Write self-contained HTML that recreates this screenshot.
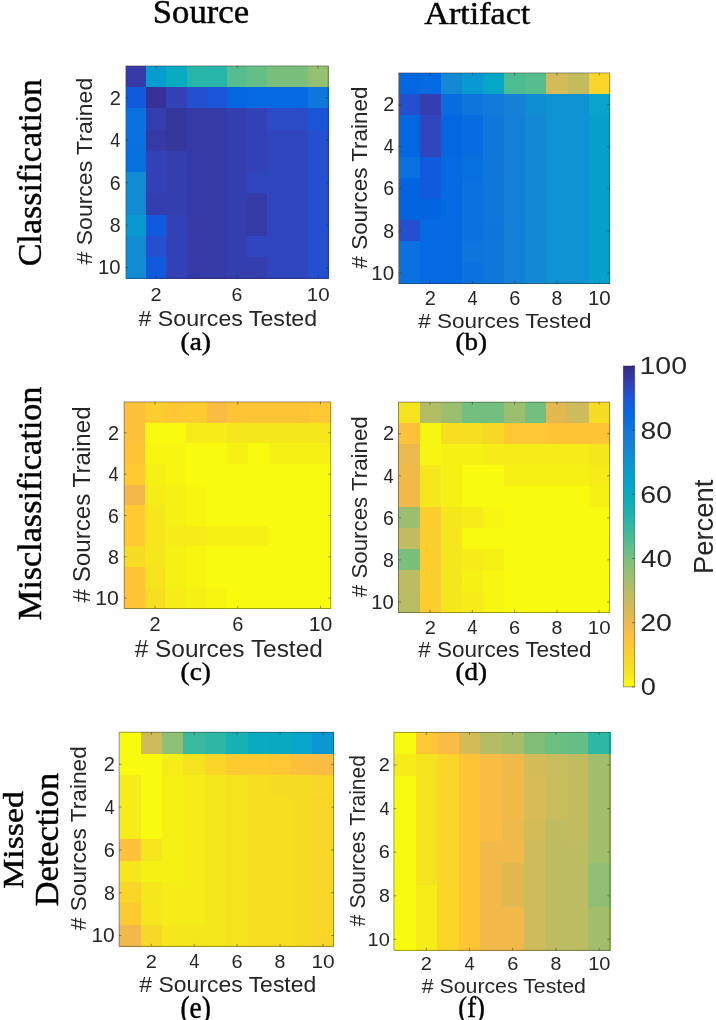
<!DOCTYPE html><html><head><meta charset="utf-8"><style>html,body{margin:0;padding:0;background:#fff;width:716px;height:1020px;overflow:hidden}svg{display:block;filter:blur(0.35px)}</style></head><body>
<svg width="716" height="1020" viewBox="0 0 716 1020">
<g shape-rendering="crispEdges">
<rect x="125.80" y="65.90" width="20.84" height="21.83" fill="#363aa7"/>
<rect x="146.04" y="65.90" width="20.84" height="21.83" fill="#079cd0"/>
<rect x="166.28" y="65.90" width="20.84" height="21.83" fill="#09acbe"/>
<rect x="186.52" y="65.90" width="20.84" height="21.83" fill="#27b5a8"/>
<rect x="206.76" y="65.90" width="20.84" height="21.83" fill="#27b5a8"/>
<rect x="227.00" y="65.90" width="20.84" height="21.83" fill="#55bd8e"/>
<rect x="247.24" y="65.90" width="20.84" height="21.83" fill="#64be86"/>
<rect x="267.48" y="65.90" width="20.84" height="21.83" fill="#7abf7c"/>
<rect x="287.72" y="65.90" width="20.84" height="21.83" fill="#7abf7c"/>
<rect x="307.96" y="65.90" width="20.84" height="21.83" fill="#95bf71"/>
<rect x="125.80" y="87.13" width="20.84" height="21.83" fill="#105bdd"/>
<rect x="146.04" y="87.13" width="20.84" height="21.83" fill="#363297"/>
<rect x="166.28" y="87.13" width="20.84" height="21.83" fill="#3342b7"/>
<rect x="186.52" y="87.13" width="20.84" height="21.83" fill="#2450cf"/>
<rect x="206.76" y="87.13" width="20.84" height="21.83" fill="#1b55d7"/>
<rect x="227.00" y="87.13" width="20.84" height="21.83" fill="#0267e1"/>
<rect x="247.24" y="87.13" width="20.84" height="21.83" fill="#036ae1"/>
<rect x="267.48" y="87.13" width="20.84" height="21.83" fill="#036ae1"/>
<rect x="287.72" y="87.13" width="20.84" height="21.83" fill="#036ae1"/>
<rect x="307.96" y="87.13" width="20.84" height="21.83" fill="#0f77db"/>
<rect x="125.80" y="108.36" width="20.84" height="21.83" fill="#0a72de"/>
<rect x="146.04" y="108.36" width="20.84" height="21.83" fill="#353eaf"/>
<rect x="166.28" y="108.36" width="20.84" height="21.83" fill="#36369f"/>
<rect x="186.52" y="108.36" width="20.84" height="21.83" fill="#363aa7"/>
<rect x="206.76" y="108.36" width="20.84" height="21.83" fill="#363aa7"/>
<rect x="227.00" y="108.36" width="20.84" height="21.83" fill="#353eaf"/>
<rect x="247.24" y="108.36" width="20.84" height="21.83" fill="#3342b7"/>
<rect x="267.48" y="108.36" width="20.84" height="21.83" fill="#2b4bc7"/>
<rect x="287.72" y="108.36" width="20.84" height="21.83" fill="#2b4bc7"/>
<rect x="307.96" y="108.36" width="20.84" height="21.83" fill="#1b55d7"/>
<rect x="125.80" y="129.59" width="20.84" height="21.83" fill="#0a72de"/>
<rect x="146.04" y="129.59" width="20.84" height="21.83" fill="#363aa7"/>
<rect x="166.28" y="129.59" width="20.84" height="21.83" fill="#36369f"/>
<rect x="186.52" y="129.59" width="20.84" height="21.83" fill="#363aa7"/>
<rect x="206.76" y="129.59" width="20.84" height="21.83" fill="#363aa7"/>
<rect x="227.00" y="129.59" width="20.84" height="21.83" fill="#353eaf"/>
<rect x="247.24" y="129.59" width="20.84" height="21.83" fill="#3342b7"/>
<rect x="267.48" y="129.59" width="20.84" height="21.83" fill="#2f46bf"/>
<rect x="287.72" y="129.59" width="20.84" height="21.83" fill="#2f46bf"/>
<rect x="307.96" y="129.59" width="20.84" height="21.83" fill="#2450cf"/>
<rect x="125.80" y="150.82" width="20.84" height="21.83" fill="#0770df"/>
<rect x="146.04" y="150.82" width="20.84" height="21.83" fill="#3342b7"/>
<rect x="166.28" y="150.82" width="20.84" height="21.83" fill="#353eaf"/>
<rect x="186.52" y="150.82" width="20.84" height="21.83" fill="#363aa7"/>
<rect x="206.76" y="150.82" width="20.84" height="21.83" fill="#363aa7"/>
<rect x="227.00" y="150.82" width="20.84" height="21.83" fill="#353eaf"/>
<rect x="247.24" y="150.82" width="20.84" height="21.83" fill="#3342b7"/>
<rect x="267.48" y="150.82" width="20.84" height="21.83" fill="#2f46bf"/>
<rect x="287.72" y="150.82" width="20.84" height="21.83" fill="#2f46bf"/>
<rect x="307.96" y="150.82" width="20.84" height="21.83" fill="#2450cf"/>
<rect x="125.80" y="172.05" width="20.84" height="21.83" fill="#118cd2"/>
<rect x="146.04" y="172.05" width="20.84" height="21.83" fill="#3342b7"/>
<rect x="166.28" y="172.05" width="20.84" height="21.83" fill="#353eaf"/>
<rect x="186.52" y="172.05" width="20.84" height="21.83" fill="#363aa7"/>
<rect x="206.76" y="172.05" width="20.84" height="21.83" fill="#363aa7"/>
<rect x="227.00" y="172.05" width="20.84" height="21.83" fill="#353eaf"/>
<rect x="247.24" y="172.05" width="20.84" height="21.83" fill="#2f46bf"/>
<rect x="267.48" y="172.05" width="20.84" height="21.83" fill="#2f46bf"/>
<rect x="287.72" y="172.05" width="20.84" height="21.83" fill="#2f46bf"/>
<rect x="307.96" y="172.05" width="20.84" height="21.83" fill="#2450cf"/>
<rect x="125.80" y="193.28" width="20.84" height="21.83" fill="#118cd2"/>
<rect x="146.04" y="193.28" width="20.84" height="21.83" fill="#353eaf"/>
<rect x="166.28" y="193.28" width="20.84" height="21.83" fill="#353eaf"/>
<rect x="186.52" y="193.28" width="20.84" height="21.83" fill="#363aa7"/>
<rect x="206.76" y="193.28" width="20.84" height="21.83" fill="#363aa7"/>
<rect x="227.00" y="193.28" width="20.84" height="21.83" fill="#353eaf"/>
<rect x="247.24" y="193.28" width="20.84" height="21.83" fill="#363aa7"/>
<rect x="267.48" y="193.28" width="20.84" height="21.83" fill="#2f46bf"/>
<rect x="287.72" y="193.28" width="20.84" height="21.83" fill="#2f46bf"/>
<rect x="307.96" y="193.28" width="20.84" height="21.83" fill="#2450cf"/>
<rect x="125.80" y="214.51" width="20.84" height="21.83" fill="#0899d1"/>
<rect x="146.04" y="214.51" width="20.84" height="21.83" fill="#105bdd"/>
<rect x="166.28" y="214.51" width="20.84" height="21.83" fill="#3342b7"/>
<rect x="186.52" y="214.51" width="20.84" height="21.83" fill="#363aa7"/>
<rect x="206.76" y="214.51" width="20.84" height="21.83" fill="#363aa7"/>
<rect x="227.00" y="214.51" width="20.84" height="21.83" fill="#353eaf"/>
<rect x="247.24" y="214.51" width="20.84" height="21.83" fill="#363aa7"/>
<rect x="267.48" y="214.51" width="20.84" height="21.83" fill="#2f46bf"/>
<rect x="287.72" y="214.51" width="20.84" height="21.83" fill="#2f46bf"/>
<rect x="307.96" y="214.51" width="20.84" height="21.83" fill="#2450cf"/>
<rect x="125.80" y="235.74" width="20.84" height="21.83" fill="#118cd2"/>
<rect x="146.04" y="235.74" width="20.84" height="21.83" fill="#2450cf"/>
<rect x="166.28" y="235.74" width="20.84" height="21.83" fill="#3342b7"/>
<rect x="186.52" y="235.74" width="20.84" height="21.83" fill="#363aa7"/>
<rect x="206.76" y="235.74" width="20.84" height="21.83" fill="#363aa7"/>
<rect x="227.00" y="235.74" width="20.84" height="21.83" fill="#353eaf"/>
<rect x="247.24" y="235.74" width="20.84" height="21.83" fill="#2f46bf"/>
<rect x="267.48" y="235.74" width="20.84" height="21.83" fill="#2f46bf"/>
<rect x="287.72" y="235.74" width="20.84" height="21.83" fill="#2f46bf"/>
<rect x="307.96" y="235.74" width="20.84" height="21.83" fill="#2450cf"/>
<rect x="125.80" y="256.97" width="20.84" height="21.83" fill="#118cd2"/>
<rect x="146.04" y="256.97" width="20.84" height="21.83" fill="#105bdd"/>
<rect x="166.28" y="256.97" width="20.84" height="21.83" fill="#3342b7"/>
<rect x="186.52" y="256.97" width="20.84" height="21.83" fill="#363aa7"/>
<rect x="206.76" y="256.97" width="20.84" height="21.83" fill="#363aa7"/>
<rect x="227.00" y="256.97" width="20.84" height="21.83" fill="#353eaf"/>
<rect x="247.24" y="256.97" width="20.84" height="21.83" fill="#353eaf"/>
<rect x="267.48" y="256.97" width="20.84" height="21.83" fill="#2f46bf"/>
<rect x="287.72" y="256.97" width="20.84" height="21.83" fill="#2f46bf"/>
<rect x="307.96" y="256.97" width="20.84" height="21.83" fill="#2450cf"/>
</g>
<rect x="125.80" y="65.90" width="202.40" height="212.30" fill="none" stroke="rgba(38,38,38,0.55)" stroke-width="0.8"/>
<path d="M156.16 278.20v-2.5M156.16 65.90v2.5M237.12 278.20v-2.5M237.12 65.90v2.5M318.08 278.20v-2.5M318.08 65.90v2.5M125.80 97.75h2.5M328.20 97.75h-2.5M125.80 140.20h2.5M328.20 140.20h-2.5M125.80 182.66h2.5M328.20 182.66h-2.5M125.80 225.12h2.5M328.20 225.12h-2.5M125.80 267.58h2.5M328.20 267.58h-2.5" stroke="rgba(38,38,38,0.6)" stroke-width="0.8" fill="none"/>
<g shape-rendering="crispEdges">
<rect x="398.50" y="72.90" width="21.73" height="21.65" fill="#0267e1"/>
<rect x="419.63" y="72.90" width="21.73" height="21.65" fill="#036ae1"/>
<rect x="440.76" y="72.90" width="21.73" height="21.65" fill="#1389d3"/>
<rect x="461.89" y="72.90" width="21.73" height="21.65" fill="#0899d1"/>
<rect x="483.02" y="72.90" width="21.73" height="21.65" fill="#06a6c6"/>
<rect x="504.15" y="72.90" width="21.73" height="21.65" fill="#4dbc92"/>
<rect x="525.28" y="72.90" width="21.73" height="21.65" fill="#55bd8e"/>
<rect x="546.41" y="72.90" width="21.73" height="21.65" fill="#d3bb58"/>
<rect x="567.54" y="72.90" width="21.73" height="21.65" fill="#c3bc5f"/>
<rect x="588.67" y="72.90" width="21.73" height="21.65" fill="#f9d528"/>
<rect x="398.50" y="93.95" width="21.73" height="21.65" fill="#2450cf"/>
<rect x="419.63" y="93.95" width="21.73" height="21.65" fill="#353eaf"/>
<rect x="440.76" y="93.95" width="21.73" height="21.65" fill="#056de0"/>
<rect x="461.89" y="93.95" width="21.73" height="21.65" fill="#0d75dc"/>
<rect x="483.02" y="93.95" width="21.73" height="21.65" fill="#117ada"/>
<rect x="504.15" y="93.95" width="21.73" height="21.65" fill="#1481d6"/>
<rect x="525.28" y="93.95" width="21.73" height="21.65" fill="#0f8fd2"/>
<rect x="546.41" y="93.95" width="21.73" height="21.65" fill="#0d93d2"/>
<rect x="567.54" y="93.95" width="21.73" height="21.65" fill="#0d93d2"/>
<rect x="588.67" y="93.95" width="21.73" height="21.65" fill="#06a5c9"/>
<rect x="398.50" y="115.00" width="21.73" height="21.65" fill="#0267e1"/>
<rect x="419.63" y="115.00" width="21.73" height="21.65" fill="#2f46bf"/>
<rect x="440.76" y="115.00" width="21.73" height="21.65" fill="#0267e1"/>
<rect x="461.89" y="115.00" width="21.73" height="21.65" fill="#056de0"/>
<rect x="483.02" y="115.00" width="21.73" height="21.65" fill="#0f77db"/>
<rect x="504.15" y="115.00" width="21.73" height="21.65" fill="#137fd7"/>
<rect x="525.28" y="115.00" width="21.73" height="21.65" fill="#1389d3"/>
<rect x="546.41" y="115.00" width="21.73" height="21.65" fill="#0d93d2"/>
<rect x="567.54" y="115.00" width="21.73" height="21.65" fill="#0d93d2"/>
<rect x="588.67" y="115.00" width="21.73" height="21.65" fill="#06a0cd"/>
<rect x="398.50" y="136.05" width="21.73" height="21.65" fill="#0267e1"/>
<rect x="419.63" y="136.05" width="21.73" height="21.65" fill="#2f46bf"/>
<rect x="440.76" y="136.05" width="21.73" height="21.65" fill="#0267e1"/>
<rect x="461.89" y="136.05" width="21.73" height="21.65" fill="#056de0"/>
<rect x="483.02" y="136.05" width="21.73" height="21.65" fill="#0f77db"/>
<rect x="504.15" y="136.05" width="21.73" height="21.65" fill="#137fd7"/>
<rect x="525.28" y="136.05" width="21.73" height="21.65" fill="#1389d3"/>
<rect x="546.41" y="136.05" width="21.73" height="21.65" fill="#0d93d2"/>
<rect x="567.54" y="136.05" width="21.73" height="21.65" fill="#0d93d2"/>
<rect x="588.67" y="136.05" width="21.73" height="21.65" fill="#06a0cd"/>
<rect x="398.50" y="157.10" width="21.73" height="21.65" fill="#0a72de"/>
<rect x="419.63" y="157.10" width="21.73" height="21.65" fill="#105bdd"/>
<rect x="440.76" y="157.10" width="21.73" height="21.65" fill="#036ae1"/>
<rect x="461.89" y="157.10" width="21.73" height="21.65" fill="#0770df"/>
<rect x="483.02" y="157.10" width="21.73" height="21.65" fill="#0f77db"/>
<rect x="504.15" y="157.10" width="21.73" height="21.65" fill="#137fd7"/>
<rect x="525.28" y="157.10" width="21.73" height="21.65" fill="#1389d3"/>
<rect x="546.41" y="157.10" width="21.73" height="21.65" fill="#0d93d2"/>
<rect x="567.54" y="157.10" width="21.73" height="21.65" fill="#0d93d2"/>
<rect x="588.67" y="157.10" width="21.73" height="21.65" fill="#06a0cd"/>
<rect x="398.50" y="178.15" width="21.73" height="21.65" fill="#0364e1"/>
<rect x="419.63" y="178.15" width="21.73" height="21.65" fill="#105bdd"/>
<rect x="440.76" y="178.15" width="21.73" height="21.65" fill="#036ae1"/>
<rect x="461.89" y="178.15" width="21.73" height="21.65" fill="#0a72de"/>
<rect x="483.02" y="178.15" width="21.73" height="21.65" fill="#0f77db"/>
<rect x="504.15" y="178.15" width="21.73" height="21.65" fill="#137fd7"/>
<rect x="525.28" y="178.15" width="21.73" height="21.65" fill="#1389d3"/>
<rect x="546.41" y="178.15" width="21.73" height="21.65" fill="#0d93d2"/>
<rect x="567.54" y="178.15" width="21.73" height="21.65" fill="#0d93d2"/>
<rect x="588.67" y="178.15" width="21.73" height="21.65" fill="#06a0cd"/>
<rect x="398.50" y="199.20" width="21.73" height="21.65" fill="#0364e1"/>
<rect x="419.63" y="199.20" width="21.73" height="21.65" fill="#0364e1"/>
<rect x="440.76" y="199.20" width="21.73" height="21.65" fill="#036ae1"/>
<rect x="461.89" y="199.20" width="21.73" height="21.65" fill="#0a72de"/>
<rect x="483.02" y="199.20" width="21.73" height="21.65" fill="#0f77db"/>
<rect x="504.15" y="199.20" width="21.73" height="21.65" fill="#137fd7"/>
<rect x="525.28" y="199.20" width="21.73" height="21.65" fill="#1389d3"/>
<rect x="546.41" y="199.20" width="21.73" height="21.65" fill="#0d93d2"/>
<rect x="567.54" y="199.20" width="21.73" height="21.65" fill="#0d93d2"/>
<rect x="588.67" y="199.20" width="21.73" height="21.65" fill="#06a0cd"/>
<rect x="398.50" y="220.25" width="21.73" height="21.65" fill="#2450cf"/>
<rect x="419.63" y="220.25" width="21.73" height="21.65" fill="#036ae1"/>
<rect x="440.76" y="220.25" width="21.73" height="21.65" fill="#036ae1"/>
<rect x="461.89" y="220.25" width="21.73" height="21.65" fill="#0a72de"/>
<rect x="483.02" y="220.25" width="21.73" height="21.65" fill="#0d75dc"/>
<rect x="504.15" y="220.25" width="21.73" height="21.65" fill="#137fd7"/>
<rect x="525.28" y="220.25" width="21.73" height="21.65" fill="#1389d3"/>
<rect x="546.41" y="220.25" width="21.73" height="21.65" fill="#0d93d2"/>
<rect x="567.54" y="220.25" width="21.73" height="21.65" fill="#0d93d2"/>
<rect x="588.67" y="220.25" width="21.73" height="21.65" fill="#06a0cd"/>
<rect x="398.50" y="241.30" width="21.73" height="21.65" fill="#0a72de"/>
<rect x="419.63" y="241.30" width="21.73" height="21.65" fill="#036ae1"/>
<rect x="440.76" y="241.30" width="21.73" height="21.65" fill="#036ae1"/>
<rect x="461.89" y="241.30" width="21.73" height="21.65" fill="#0d75dc"/>
<rect x="483.02" y="241.30" width="21.73" height="21.65" fill="#0f77db"/>
<rect x="504.15" y="241.30" width="21.73" height="21.65" fill="#137fd7"/>
<rect x="525.28" y="241.30" width="21.73" height="21.65" fill="#1389d3"/>
<rect x="546.41" y="241.30" width="21.73" height="21.65" fill="#0d93d2"/>
<rect x="567.54" y="241.30" width="21.73" height="21.65" fill="#0d93d2"/>
<rect x="588.67" y="241.30" width="21.73" height="21.65" fill="#06a0cd"/>
<rect x="398.50" y="262.35" width="21.73" height="21.65" fill="#0a72de"/>
<rect x="419.63" y="262.35" width="21.73" height="21.65" fill="#036ae1"/>
<rect x="440.76" y="262.35" width="21.73" height="21.65" fill="#036ae1"/>
<rect x="461.89" y="262.35" width="21.73" height="21.65" fill="#0a72de"/>
<rect x="483.02" y="262.35" width="21.73" height="21.65" fill="#0f77db"/>
<rect x="504.15" y="262.35" width="21.73" height="21.65" fill="#137fd7"/>
<rect x="525.28" y="262.35" width="21.73" height="21.65" fill="#1389d3"/>
<rect x="546.41" y="262.35" width="21.73" height="21.65" fill="#0d93d2"/>
<rect x="567.54" y="262.35" width="21.73" height="21.65" fill="#0d93d2"/>
<rect x="588.67" y="262.35" width="21.73" height="21.65" fill="#06a0cd"/>
</g>
<rect x="398.50" y="72.90" width="211.30" height="210.50" fill="none" stroke="rgba(38,38,38,0.55)" stroke-width="0.8"/>
<path d="M430.19 283.40v-2.5M430.19 72.90v2.5M472.45 283.40v-2.5M472.45 72.90v2.5M514.71 283.40v-2.5M514.71 72.90v2.5M556.97 283.40v-2.5M556.97 72.90v2.5M599.23 283.40v-2.5M599.23 72.90v2.5M398.50 104.47h2.5M609.80 104.47h-2.5M398.50 146.57h2.5M609.80 146.57h-2.5M398.50 188.67h2.5M609.80 188.67h-2.5M398.50 230.77h2.5M609.80 230.77h-2.5M398.50 272.88h2.5M609.80 272.88h-2.5" stroke="rgba(38,38,38,0.6)" stroke-width="0.8" fill="none"/>
<g shape-rendering="crispEdges">
<rect x="124.10" y="401.90" width="21.27" height="21.25" fill="#fec13a"/>
<rect x="144.77" y="401.90" width="21.27" height="21.25" fill="#fcce2d"/>
<rect x="165.44" y="401.90" width="21.27" height="21.25" fill="#fec733"/>
<rect x="186.11" y="401.90" width="21.27" height="21.25" fill="#fdcb30"/>
<rect x="206.78" y="401.90" width="21.27" height="21.25" fill="#fabc42"/>
<rect x="227.45" y="401.90" width="21.27" height="21.25" fill="#ffc436"/>
<rect x="248.12" y="401.90" width="21.27" height="21.25" fill="#ffc436"/>
<rect x="268.79" y="401.90" width="21.27" height="21.25" fill="#ffc436"/>
<rect x="289.46" y="401.90" width="21.27" height="21.25" fill="#ffc436"/>
<rect x="310.13" y="401.90" width="21.27" height="21.25" fill="#fec733"/>
<rect x="124.10" y="422.55" width="21.27" height="21.25" fill="#fec13a"/>
<rect x="144.77" y="422.55" width="21.27" height="21.25" fill="#f9fb0e"/>
<rect x="165.44" y="422.55" width="21.27" height="21.25" fill="#f9fb0e"/>
<rect x="186.11" y="422.55" width="21.27" height="21.25" fill="#f5ec18"/>
<rect x="206.78" y="422.55" width="21.27" height="21.25" fill="#f5ec18"/>
<rect x="227.45" y="422.55" width="21.27" height="21.25" fill="#f5e71b"/>
<rect x="248.12" y="422.55" width="21.27" height="21.25" fill="#f5e71b"/>
<rect x="268.79" y="422.55" width="21.27" height="21.25" fill="#f5e71b"/>
<rect x="289.46" y="422.55" width="21.27" height="21.25" fill="#f5e71b"/>
<rect x="310.13" y="422.55" width="21.27" height="21.25" fill="#f5e71b"/>
<rect x="124.10" y="443.20" width="21.27" height="21.25" fill="#ffc436"/>
<rect x="144.77" y="443.20" width="21.27" height="21.25" fill="#f7f611"/>
<rect x="165.44" y="443.20" width="21.27" height="21.25" fill="#f7f611"/>
<rect x="186.11" y="443.20" width="21.27" height="21.25" fill="#f9fb0e"/>
<rect x="206.78" y="443.20" width="21.27" height="21.25" fill="#f9fb0e"/>
<rect x="227.45" y="443.20" width="21.27" height="21.25" fill="#f6f115"/>
<rect x="248.12" y="443.20" width="21.27" height="21.25" fill="#f9fb0e"/>
<rect x="268.79" y="443.20" width="21.27" height="21.25" fill="#f6f115"/>
<rect x="289.46" y="443.20" width="21.27" height="21.25" fill="#f6f115"/>
<rect x="310.13" y="443.20" width="21.27" height="21.25" fill="#f6f115"/>
<rect x="124.10" y="463.85" width="21.27" height="21.25" fill="#fdcb30"/>
<rect x="144.77" y="463.85" width="21.27" height="21.25" fill="#f6f115"/>
<rect x="165.44" y="463.85" width="21.27" height="21.25" fill="#f7f611"/>
<rect x="186.11" y="463.85" width="21.27" height="21.25" fill="#f9fb0e"/>
<rect x="206.78" y="463.85" width="21.27" height="21.25" fill="#f9fb0e"/>
<rect x="227.45" y="463.85" width="21.27" height="21.25" fill="#f9fb0e"/>
<rect x="248.12" y="463.85" width="21.27" height="21.25" fill="#f9fb0e"/>
<rect x="268.79" y="463.85" width="21.27" height="21.25" fill="#f9fb0e"/>
<rect x="289.46" y="463.85" width="21.27" height="21.25" fill="#f9fb0e"/>
<rect x="310.13" y="463.85" width="21.27" height="21.25" fill="#f9fb0e"/>
<rect x="124.10" y="484.50" width="21.27" height="21.25" fill="#f1b949"/>
<rect x="144.77" y="484.50" width="21.27" height="21.25" fill="#f5ec18"/>
<rect x="165.44" y="484.50" width="21.27" height="21.25" fill="#f6f115"/>
<rect x="186.11" y="484.50" width="21.27" height="21.25" fill="#f7f611"/>
<rect x="206.78" y="484.50" width="21.27" height="21.25" fill="#f9fb0e"/>
<rect x="227.45" y="484.50" width="21.27" height="21.25" fill="#f9fb0e"/>
<rect x="248.12" y="484.50" width="21.27" height="21.25" fill="#f9fb0e"/>
<rect x="268.79" y="484.50" width="21.27" height="21.25" fill="#f9fb0e"/>
<rect x="289.46" y="484.50" width="21.27" height="21.25" fill="#f9fb0e"/>
<rect x="310.13" y="484.50" width="21.27" height="21.25" fill="#f9fb0e"/>
<rect x="124.10" y="505.15" width="21.27" height="21.25" fill="#fdcb30"/>
<rect x="144.77" y="505.15" width="21.27" height="21.25" fill="#f5e71b"/>
<rect x="165.44" y="505.15" width="21.27" height="21.25" fill="#f6f115"/>
<rect x="186.11" y="505.15" width="21.27" height="21.25" fill="#f7f611"/>
<rect x="206.78" y="505.15" width="21.27" height="21.25" fill="#f9fb0e"/>
<rect x="227.45" y="505.15" width="21.27" height="21.25" fill="#f9fb0e"/>
<rect x="248.12" y="505.15" width="21.27" height="21.25" fill="#f9fb0e"/>
<rect x="268.79" y="505.15" width="21.27" height="21.25" fill="#f9fb0e"/>
<rect x="289.46" y="505.15" width="21.27" height="21.25" fill="#f9fb0e"/>
<rect x="310.13" y="505.15" width="21.27" height="21.25" fill="#f9fb0e"/>
<rect x="124.10" y="525.80" width="21.27" height="21.25" fill="#fdcb30"/>
<rect x="144.77" y="525.80" width="21.27" height="21.25" fill="#f5e71b"/>
<rect x="165.44" y="525.80" width="21.27" height="21.25" fill="#f5ec18"/>
<rect x="186.11" y="525.80" width="21.27" height="21.25" fill="#f5ec18"/>
<rect x="206.78" y="525.80" width="21.27" height="21.25" fill="#f6f115"/>
<rect x="227.45" y="525.80" width="21.27" height="21.25" fill="#f6f115"/>
<rect x="248.12" y="525.80" width="21.27" height="21.25" fill="#f6f115"/>
<rect x="268.79" y="525.80" width="21.27" height="21.25" fill="#f9fb0e"/>
<rect x="289.46" y="525.80" width="21.27" height="21.25" fill="#f9fb0e"/>
<rect x="310.13" y="525.80" width="21.27" height="21.25" fill="#f9fb0e"/>
<rect x="124.10" y="546.45" width="21.27" height="21.25" fill="#f6dc23"/>
<rect x="144.77" y="546.45" width="21.27" height="21.25" fill="#f5e71b"/>
<rect x="165.44" y="546.45" width="21.27" height="21.25" fill="#f6f115"/>
<rect x="186.11" y="546.45" width="21.27" height="21.25" fill="#f7f611"/>
<rect x="206.78" y="546.45" width="21.27" height="21.25" fill="#f9fb0e"/>
<rect x="227.45" y="546.45" width="21.27" height="21.25" fill="#f9fb0e"/>
<rect x="248.12" y="546.45" width="21.27" height="21.25" fill="#f9fb0e"/>
<rect x="268.79" y="546.45" width="21.27" height="21.25" fill="#f9fb0e"/>
<rect x="289.46" y="546.45" width="21.27" height="21.25" fill="#f9fb0e"/>
<rect x="310.13" y="546.45" width="21.27" height="21.25" fill="#f9fb0e"/>
<rect x="124.10" y="567.10" width="21.27" height="21.25" fill="#ffc436"/>
<rect x="144.77" y="567.10" width="21.27" height="21.25" fill="#f5e31e"/>
<rect x="165.44" y="567.10" width="21.27" height="21.25" fill="#f6f115"/>
<rect x="186.11" y="567.10" width="21.27" height="21.25" fill="#f7f611"/>
<rect x="206.78" y="567.10" width="21.27" height="21.25" fill="#f9fb0e"/>
<rect x="227.45" y="567.10" width="21.27" height="21.25" fill="#f9fb0e"/>
<rect x="248.12" y="567.10" width="21.27" height="21.25" fill="#f9fb0e"/>
<rect x="268.79" y="567.10" width="21.27" height="21.25" fill="#f9fb0e"/>
<rect x="289.46" y="567.10" width="21.27" height="21.25" fill="#f9fb0e"/>
<rect x="310.13" y="567.10" width="21.27" height="21.25" fill="#f9fb0e"/>
<rect x="124.10" y="587.75" width="21.27" height="21.25" fill="#ffc436"/>
<rect x="144.77" y="587.75" width="21.27" height="21.25" fill="#f5df20"/>
<rect x="165.44" y="587.75" width="21.27" height="21.25" fill="#f5ec18"/>
<rect x="186.11" y="587.75" width="21.27" height="21.25" fill="#f6f115"/>
<rect x="206.78" y="587.75" width="21.27" height="21.25" fill="#f7f611"/>
<rect x="227.45" y="587.75" width="21.27" height="21.25" fill="#f9fb0e"/>
<rect x="248.12" y="587.75" width="21.27" height="21.25" fill="#f9fb0e"/>
<rect x="268.79" y="587.75" width="21.27" height="21.25" fill="#f9fb0e"/>
<rect x="289.46" y="587.75" width="21.27" height="21.25" fill="#f9fb0e"/>
<rect x="310.13" y="587.75" width="21.27" height="21.25" fill="#f9fb0e"/>
</g>
<rect x="124.10" y="401.90" width="206.70" height="206.50" fill="none" stroke="rgba(38,38,38,0.55)" stroke-width="0.8"/>
<path d="M155.10 608.40v-2.5M155.10 401.90v2.5M237.78 608.40v-2.5M237.78 401.90v2.5M320.47 608.40v-2.5M320.47 401.90v2.5M124.10 432.88h2.5M330.80 432.88h-2.5M124.10 474.17h2.5M330.80 474.17h-2.5M124.10 515.47h2.5M330.80 515.47h-2.5M124.10 556.77h2.5M330.80 556.77h-2.5M124.10 598.07h2.5M330.80 598.07h-2.5" stroke="rgba(38,38,38,0.6)" stroke-width="0.8" fill="none"/>
<g shape-rendering="crispEdges">
<rect x="398.40" y="402.10" width="21.73" height="21.64" fill="#f5e31e"/>
<rect x="419.53" y="402.10" width="21.73" height="21.64" fill="#b2bd65"/>
<rect x="440.66" y="402.10" width="21.73" height="21.64" fill="#9bbf6f"/>
<rect x="461.79" y="402.10" width="21.73" height="21.64" fill="#73bf80"/>
<rect x="482.92" y="402.10" width="21.73" height="21.64" fill="#73bf80"/>
<rect x="504.05" y="402.10" width="21.73" height="21.64" fill="#9bbf6f"/>
<rect x="525.18" y="402.10" width="21.73" height="21.64" fill="#73bf80"/>
<rect x="546.31" y="402.10" width="21.73" height="21.64" fill="#e2b951"/>
<rect x="567.44" y="402.10" width="21.73" height="21.64" fill="#cebb5b"/>
<rect x="588.57" y="402.10" width="21.73" height="21.64" fill="#f6dc23"/>
<rect x="398.40" y="423.14" width="21.73" height="21.64" fill="#fec13a"/>
<rect x="419.53" y="423.14" width="21.73" height="21.64" fill="#f7f611"/>
<rect x="440.66" y="423.14" width="21.73" height="21.64" fill="#f5df20"/>
<rect x="461.79" y="423.14" width="21.73" height="21.64" fill="#f5df20"/>
<rect x="482.92" y="423.14" width="21.73" height="21.64" fill="#f7d826"/>
<rect x="504.05" y="423.14" width="21.73" height="21.64" fill="#fec733"/>
<rect x="525.18" y="423.14" width="21.73" height="21.64" fill="#fec733"/>
<rect x="546.31" y="423.14" width="21.73" height="21.64" fill="#ffc436"/>
<rect x="567.44" y="423.14" width="21.73" height="21.64" fill="#ffc436"/>
<rect x="588.57" y="423.14" width="21.73" height="21.64" fill="#ffc436"/>
<rect x="398.40" y="444.18" width="21.73" height="21.64" fill="#ecb94c"/>
<rect x="419.53" y="444.18" width="21.73" height="21.64" fill="#f7f611"/>
<rect x="440.66" y="444.18" width="21.73" height="21.64" fill="#f6f115"/>
<rect x="461.79" y="444.18" width="21.73" height="21.64" fill="#f6f115"/>
<rect x="482.92" y="444.18" width="21.73" height="21.64" fill="#f5ec18"/>
<rect x="504.05" y="444.18" width="21.73" height="21.64" fill="#f5ec18"/>
<rect x="525.18" y="444.18" width="21.73" height="21.64" fill="#f5ec18"/>
<rect x="546.31" y="444.18" width="21.73" height="21.64" fill="#f5ec18"/>
<rect x="567.44" y="444.18" width="21.73" height="21.64" fill="#f5ec18"/>
<rect x="588.57" y="444.18" width="21.73" height="21.64" fill="#f5e71b"/>
<rect x="398.40" y="465.22" width="21.73" height="21.64" fill="#f1b949"/>
<rect x="419.53" y="465.22" width="21.73" height="21.64" fill="#f5e71b"/>
<rect x="440.66" y="465.22" width="21.73" height="21.64" fill="#f6f115"/>
<rect x="461.79" y="465.22" width="21.73" height="21.64" fill="#f9fb0e"/>
<rect x="482.92" y="465.22" width="21.73" height="21.64" fill="#f9fb0e"/>
<rect x="504.05" y="465.22" width="21.73" height="21.64" fill="#f6f115"/>
<rect x="525.18" y="465.22" width="21.73" height="21.64" fill="#f6f115"/>
<rect x="546.31" y="465.22" width="21.73" height="21.64" fill="#f6f115"/>
<rect x="567.44" y="465.22" width="21.73" height="21.64" fill="#f6f115"/>
<rect x="588.57" y="465.22" width="21.73" height="21.64" fill="#f5ec18"/>
<rect x="398.40" y="486.26" width="21.73" height="21.64" fill="#f1b949"/>
<rect x="419.53" y="486.26" width="21.73" height="21.64" fill="#f5e71b"/>
<rect x="440.66" y="486.26" width="21.73" height="21.64" fill="#f6f115"/>
<rect x="461.79" y="486.26" width="21.73" height="21.64" fill="#f9fb0e"/>
<rect x="482.92" y="486.26" width="21.73" height="21.64" fill="#f9fb0e"/>
<rect x="504.05" y="486.26" width="21.73" height="21.64" fill="#f9fb0e"/>
<rect x="525.18" y="486.26" width="21.73" height="21.64" fill="#f9fb0e"/>
<rect x="546.31" y="486.26" width="21.73" height="21.64" fill="#f9fb0e"/>
<rect x="567.44" y="486.26" width="21.73" height="21.64" fill="#f9fb0e"/>
<rect x="588.57" y="486.26" width="21.73" height="21.64" fill="#f6f115"/>
<rect x="398.40" y="507.30" width="21.73" height="21.64" fill="#9bbf6f"/>
<rect x="419.53" y="507.30" width="21.73" height="21.64" fill="#fcce2d"/>
<rect x="440.66" y="507.30" width="21.73" height="21.64" fill="#f5e71b"/>
<rect x="461.79" y="507.30" width="21.73" height="21.64" fill="#f5ec18"/>
<rect x="482.92" y="507.30" width="21.73" height="21.64" fill="#f7f611"/>
<rect x="504.05" y="507.30" width="21.73" height="21.64" fill="#f9fb0e"/>
<rect x="525.18" y="507.30" width="21.73" height="21.64" fill="#f9fb0e"/>
<rect x="546.31" y="507.30" width="21.73" height="21.64" fill="#f9fb0e"/>
<rect x="567.44" y="507.30" width="21.73" height="21.64" fill="#f9fb0e"/>
<rect x="588.57" y="507.30" width="21.73" height="21.64" fill="#f9fb0e"/>
<rect x="398.40" y="528.34" width="21.73" height="21.64" fill="#c3bc5f"/>
<rect x="419.53" y="528.34" width="21.73" height="21.64" fill="#fcce2d"/>
<rect x="440.66" y="528.34" width="21.73" height="21.64" fill="#f5e71b"/>
<rect x="461.79" y="528.34" width="21.73" height="21.64" fill="#f9fb0e"/>
<rect x="482.92" y="528.34" width="21.73" height="21.64" fill="#f9fb0e"/>
<rect x="504.05" y="528.34" width="21.73" height="21.64" fill="#f9fb0e"/>
<rect x="525.18" y="528.34" width="21.73" height="21.64" fill="#f9fb0e"/>
<rect x="546.31" y="528.34" width="21.73" height="21.64" fill="#f9fb0e"/>
<rect x="567.44" y="528.34" width="21.73" height="21.64" fill="#f9fb0e"/>
<rect x="588.57" y="528.34" width="21.73" height="21.64" fill="#f9fb0e"/>
<rect x="398.40" y="549.38" width="21.73" height="21.64" fill="#7abf7c"/>
<rect x="419.53" y="549.38" width="21.73" height="21.64" fill="#fcce2d"/>
<rect x="440.66" y="549.38" width="21.73" height="21.64" fill="#f5e71b"/>
<rect x="461.79" y="549.38" width="21.73" height="21.64" fill="#f5ec18"/>
<rect x="482.92" y="549.38" width="21.73" height="21.64" fill="#f6f115"/>
<rect x="504.05" y="549.38" width="21.73" height="21.64" fill="#f9fb0e"/>
<rect x="525.18" y="549.38" width="21.73" height="21.64" fill="#f9fb0e"/>
<rect x="546.31" y="549.38" width="21.73" height="21.64" fill="#f9fb0e"/>
<rect x="567.44" y="549.38" width="21.73" height="21.64" fill="#f9fb0e"/>
<rect x="588.57" y="549.38" width="21.73" height="21.64" fill="#f9fb0e"/>
<rect x="398.40" y="570.42" width="21.73" height="21.64" fill="#bebc61"/>
<rect x="419.53" y="570.42" width="21.73" height="21.64" fill="#fcce2d"/>
<rect x="440.66" y="570.42" width="21.73" height="21.64" fill="#f5e71b"/>
<rect x="461.79" y="570.42" width="21.73" height="21.64" fill="#f6f115"/>
<rect x="482.92" y="570.42" width="21.73" height="21.64" fill="#f7f611"/>
<rect x="504.05" y="570.42" width="21.73" height="21.64" fill="#f9fb0e"/>
<rect x="525.18" y="570.42" width="21.73" height="21.64" fill="#f9fb0e"/>
<rect x="546.31" y="570.42" width="21.73" height="21.64" fill="#f9fb0e"/>
<rect x="567.44" y="570.42" width="21.73" height="21.64" fill="#f9fb0e"/>
<rect x="588.57" y="570.42" width="21.73" height="21.64" fill="#f9fb0e"/>
<rect x="398.40" y="591.46" width="21.73" height="21.64" fill="#b8bd63"/>
<rect x="419.53" y="591.46" width="21.73" height="21.64" fill="#fcce2d"/>
<rect x="440.66" y="591.46" width="21.73" height="21.64" fill="#f5e71b"/>
<rect x="461.79" y="591.46" width="21.73" height="21.64" fill="#f5ec18"/>
<rect x="482.92" y="591.46" width="21.73" height="21.64" fill="#f7f611"/>
<rect x="504.05" y="591.46" width="21.73" height="21.64" fill="#f9fb0e"/>
<rect x="525.18" y="591.46" width="21.73" height="21.64" fill="#f9fb0e"/>
<rect x="546.31" y="591.46" width="21.73" height="21.64" fill="#f9fb0e"/>
<rect x="567.44" y="591.46" width="21.73" height="21.64" fill="#f9fb0e"/>
<rect x="588.57" y="591.46" width="21.73" height="21.64" fill="#f9fb0e"/>
</g>
<rect x="398.40" y="402.10" width="211.30" height="210.40" fill="none" stroke="rgba(38,38,38,0.55)" stroke-width="0.8"/>
<path d="M430.09 612.50v-2.5M430.09 402.10v2.5M472.36 612.50v-2.5M472.36 402.10v2.5M514.62 612.50v-2.5M514.62 402.10v2.5M556.88 612.50v-2.5M556.88 402.10v2.5M599.13 612.50v-2.5M599.13 402.10v2.5M398.40 433.66h2.5M609.70 433.66h-2.5M398.40 475.74h2.5M609.70 475.74h-2.5M398.40 517.82h2.5M609.70 517.82h-2.5M398.40 559.90h2.5M609.70 559.90h-2.5M398.40 601.98h2.5M609.70 601.98h-2.5" stroke="rgba(38,38,38,0.6)" stroke-width="0.8" fill="none"/>
<g shape-rendering="crispEdges">
<rect x="119.10" y="732.20" width="22.06" height="22.01" fill="#f9fb0e"/>
<rect x="140.56" y="732.20" width="22.06" height="22.01" fill="#cebb5b"/>
<rect x="162.02" y="732.20" width="22.06" height="22.01" fill="#8ebf74"/>
<rect x="183.48" y="732.20" width="22.06" height="22.01" fill="#39b99d"/>
<rect x="204.94" y="732.20" width="22.06" height="22.01" fill="#2db7a5"/>
<rect x="226.40" y="732.20" width="22.06" height="22.01" fill="#18b1b2"/>
<rect x="247.86" y="732.20" width="22.06" height="22.01" fill="#09acbe"/>
<rect x="269.32" y="732.20" width="22.06" height="22.01" fill="#07aac1"/>
<rect x="290.78" y="732.20" width="22.06" height="22.01" fill="#06a5c9"/>
<rect x="312.24" y="732.20" width="22.06" height="22.01" fill="#0a96d1"/>
<rect x="119.10" y="753.61" width="22.06" height="22.01" fill="#f9fb0e"/>
<rect x="140.56" y="753.61" width="22.06" height="22.01" fill="#f9fb0e"/>
<rect x="162.02" y="753.61" width="22.06" height="22.01" fill="#f5ec18"/>
<rect x="183.48" y="753.61" width="22.06" height="22.01" fill="#f5e31e"/>
<rect x="204.94" y="753.61" width="22.06" height="22.01" fill="#f9d528"/>
<rect x="226.40" y="753.61" width="22.06" height="22.01" fill="#fdcb30"/>
<rect x="247.86" y="753.61" width="22.06" height="22.01" fill="#fdcb30"/>
<rect x="269.32" y="753.61" width="22.06" height="22.01" fill="#fec733"/>
<rect x="290.78" y="753.61" width="22.06" height="22.01" fill="#fdbe3e"/>
<rect x="312.24" y="753.61" width="22.06" height="22.01" fill="#fabc42"/>
<rect x="119.10" y="775.02" width="22.06" height="22.01" fill="#f5ec18"/>
<rect x="140.56" y="775.02" width="22.06" height="22.01" fill="#f9fb0e"/>
<rect x="162.02" y="775.02" width="22.06" height="22.01" fill="#f6f115"/>
<rect x="183.48" y="775.02" width="22.06" height="22.01" fill="#f5ec18"/>
<rect x="204.94" y="775.02" width="22.06" height="22.01" fill="#f5e71b"/>
<rect x="226.40" y="775.02" width="22.06" height="22.01" fill="#f5e31e"/>
<rect x="247.86" y="775.02" width="22.06" height="22.01" fill="#f5df20"/>
<rect x="269.32" y="775.02" width="22.06" height="22.01" fill="#f6dc23"/>
<rect x="290.78" y="775.02" width="22.06" height="22.01" fill="#f6dc23"/>
<rect x="312.24" y="775.02" width="22.06" height="22.01" fill="#f7d826"/>
<rect x="119.10" y="796.43" width="22.06" height="22.01" fill="#f5ec18"/>
<rect x="140.56" y="796.43" width="22.06" height="22.01" fill="#f9fb0e"/>
<rect x="162.02" y="796.43" width="22.06" height="22.01" fill="#f6f115"/>
<rect x="183.48" y="796.43" width="22.06" height="22.01" fill="#f5ec18"/>
<rect x="204.94" y="796.43" width="22.06" height="22.01" fill="#f5e71b"/>
<rect x="226.40" y="796.43" width="22.06" height="22.01" fill="#f5e31e"/>
<rect x="247.86" y="796.43" width="22.06" height="22.01" fill="#f5df20"/>
<rect x="269.32" y="796.43" width="22.06" height="22.01" fill="#f5df20"/>
<rect x="290.78" y="796.43" width="22.06" height="22.01" fill="#f6dc23"/>
<rect x="312.24" y="796.43" width="22.06" height="22.01" fill="#f9d528"/>
<rect x="119.10" y="817.84" width="22.06" height="22.01" fill="#f5ec18"/>
<rect x="140.56" y="817.84" width="22.06" height="22.01" fill="#f9fb0e"/>
<rect x="162.02" y="817.84" width="22.06" height="22.01" fill="#f6f115"/>
<rect x="183.48" y="817.84" width="22.06" height="22.01" fill="#f5ec18"/>
<rect x="204.94" y="817.84" width="22.06" height="22.01" fill="#f5e71b"/>
<rect x="226.40" y="817.84" width="22.06" height="22.01" fill="#f5e31e"/>
<rect x="247.86" y="817.84" width="22.06" height="22.01" fill="#f5df20"/>
<rect x="269.32" y="817.84" width="22.06" height="22.01" fill="#f5df20"/>
<rect x="290.78" y="817.84" width="22.06" height="22.01" fill="#f6dc23"/>
<rect x="312.24" y="817.84" width="22.06" height="22.01" fill="#f9d528"/>
<rect x="119.10" y="839.25" width="22.06" height="22.01" fill="#fec13a"/>
<rect x="140.56" y="839.25" width="22.06" height="22.01" fill="#f5e71b"/>
<rect x="162.02" y="839.25" width="22.06" height="22.01" fill="#f6f115"/>
<rect x="183.48" y="839.25" width="22.06" height="22.01" fill="#f5ec18"/>
<rect x="204.94" y="839.25" width="22.06" height="22.01" fill="#f5e71b"/>
<rect x="226.40" y="839.25" width="22.06" height="22.01" fill="#f5e31e"/>
<rect x="247.86" y="839.25" width="22.06" height="22.01" fill="#f5df20"/>
<rect x="269.32" y="839.25" width="22.06" height="22.01" fill="#f5df20"/>
<rect x="290.78" y="839.25" width="22.06" height="22.01" fill="#f6dc23"/>
<rect x="312.24" y="839.25" width="22.06" height="22.01" fill="#f9d528"/>
<rect x="119.10" y="860.66" width="22.06" height="22.01" fill="#f5e71b"/>
<rect x="140.56" y="860.66" width="22.06" height="22.01" fill="#f6f115"/>
<rect x="162.02" y="860.66" width="22.06" height="22.01" fill="#f6f115"/>
<rect x="183.48" y="860.66" width="22.06" height="22.01" fill="#f5ec18"/>
<rect x="204.94" y="860.66" width="22.06" height="22.01" fill="#f5e71b"/>
<rect x="226.40" y="860.66" width="22.06" height="22.01" fill="#f5e31e"/>
<rect x="247.86" y="860.66" width="22.06" height="22.01" fill="#f5df20"/>
<rect x="269.32" y="860.66" width="22.06" height="22.01" fill="#f5df20"/>
<rect x="290.78" y="860.66" width="22.06" height="22.01" fill="#f6dc23"/>
<rect x="312.24" y="860.66" width="22.06" height="22.01" fill="#f9d528"/>
<rect x="119.10" y="882.07" width="22.06" height="22.01" fill="#f9d528"/>
<rect x="140.56" y="882.07" width="22.06" height="22.01" fill="#f5e71b"/>
<rect x="162.02" y="882.07" width="22.06" height="22.01" fill="#f5ec18"/>
<rect x="183.48" y="882.07" width="22.06" height="22.01" fill="#f5ec18"/>
<rect x="204.94" y="882.07" width="22.06" height="22.01" fill="#f5e71b"/>
<rect x="226.40" y="882.07" width="22.06" height="22.01" fill="#f5e31e"/>
<rect x="247.86" y="882.07" width="22.06" height="22.01" fill="#f5df20"/>
<rect x="269.32" y="882.07" width="22.06" height="22.01" fill="#f5df20"/>
<rect x="290.78" y="882.07" width="22.06" height="22.01" fill="#f6dc23"/>
<rect x="312.24" y="882.07" width="22.06" height="22.01" fill="#f9d528"/>
<rect x="119.10" y="903.48" width="22.06" height="22.01" fill="#fdcb30"/>
<rect x="140.56" y="903.48" width="22.06" height="22.01" fill="#f5e71b"/>
<rect x="162.02" y="903.48" width="22.06" height="22.01" fill="#f5ec18"/>
<rect x="183.48" y="903.48" width="22.06" height="22.01" fill="#f5ec18"/>
<rect x="204.94" y="903.48" width="22.06" height="22.01" fill="#f5e71b"/>
<rect x="226.40" y="903.48" width="22.06" height="22.01" fill="#f5e31e"/>
<rect x="247.86" y="903.48" width="22.06" height="22.01" fill="#f5df20"/>
<rect x="269.32" y="903.48" width="22.06" height="22.01" fill="#f5df20"/>
<rect x="290.78" y="903.48" width="22.06" height="22.01" fill="#f6dc23"/>
<rect x="312.24" y="903.48" width="22.06" height="22.01" fill="#f9d528"/>
<rect x="119.10" y="924.89" width="22.06" height="22.01" fill="#f1b949"/>
<rect x="140.56" y="924.89" width="22.06" height="22.01" fill="#f7d826"/>
<rect x="162.02" y="924.89" width="22.06" height="22.01" fill="#f5e71b"/>
<rect x="183.48" y="924.89" width="22.06" height="22.01" fill="#f5e71b"/>
<rect x="204.94" y="924.89" width="22.06" height="22.01" fill="#f5e71b"/>
<rect x="226.40" y="924.89" width="22.06" height="22.01" fill="#f5e31e"/>
<rect x="247.86" y="924.89" width="22.06" height="22.01" fill="#f5df20"/>
<rect x="269.32" y="924.89" width="22.06" height="22.01" fill="#f5df20"/>
<rect x="290.78" y="924.89" width="22.06" height="22.01" fill="#f6dc23"/>
<rect x="312.24" y="924.89" width="22.06" height="22.01" fill="#f9d528"/>
</g>
<rect x="119.10" y="732.20" width="214.60" height="214.10" fill="none" stroke="rgba(38,38,38,0.55)" stroke-width="0.8"/>
<path d="M151.29 946.30v-2.5M151.29 732.20v2.5M194.21 946.30v-2.5M194.21 732.20v2.5M237.13 946.30v-2.5M237.13 732.20v2.5M280.05 946.30v-2.5M280.05 732.20v2.5M322.97 946.30v-2.5M322.97 732.20v2.5M119.10 764.32h2.5M333.70 764.32h-2.5M119.10 807.13h2.5M333.70 807.13h-2.5M119.10 849.95h2.5M333.70 849.95h-2.5M119.10 892.77h2.5M333.70 892.77h-2.5M119.10 935.59h2.5M333.70 935.59h-2.5" stroke="rgba(38,38,38,0.6)" stroke-width="0.8" fill="none"/>
<g shape-rendering="crispEdges">
<rect x="393.90" y="732.30" width="22.20" height="22.40" fill="#f9fb0e"/>
<rect x="415.50" y="732.30" width="22.20" height="22.40" fill="#fec733"/>
<rect x="437.10" y="732.30" width="22.20" height="22.40" fill="#fabc42"/>
<rect x="458.70" y="732.30" width="22.20" height="22.40" fill="#d3bb58"/>
<rect x="480.30" y="732.30" width="22.20" height="22.40" fill="#b2bd65"/>
<rect x="501.90" y="732.30" width="22.20" height="22.40" fill="#a7be6a"/>
<rect x="523.50" y="732.30" width="22.20" height="22.40" fill="#81bf79"/>
<rect x="545.10" y="732.30" width="22.20" height="22.40" fill="#6bbf83"/>
<rect x="566.70" y="732.30" width="22.20" height="22.40" fill="#64be86"/>
<rect x="588.30" y="732.30" width="22.20" height="22.40" fill="#2db7a5"/>
<rect x="393.90" y="754.10" width="22.20" height="22.40" fill="#f5ec18"/>
<rect x="415.50" y="754.10" width="22.20" height="22.40" fill="#f5e31e"/>
<rect x="437.10" y="754.10" width="22.20" height="22.40" fill="#f9d528"/>
<rect x="458.70" y="754.10" width="22.20" height="22.40" fill="#ffc436"/>
<rect x="480.30" y="754.10" width="22.20" height="22.40" fill="#fabc42"/>
<rect x="501.90" y="754.10" width="22.20" height="22.40" fill="#f1b949"/>
<rect x="523.50" y="754.10" width="22.20" height="22.40" fill="#d3bb58"/>
<rect x="545.10" y="754.10" width="22.20" height="22.40" fill="#c8bc5d"/>
<rect x="566.70" y="754.10" width="22.20" height="22.40" fill="#c3bc5f"/>
<rect x="588.30" y="754.10" width="22.20" height="22.40" fill="#a1be6c"/>
<rect x="393.90" y="775.90" width="22.20" height="22.40" fill="#f9fb0e"/>
<rect x="415.50" y="775.90" width="22.20" height="22.40" fill="#f5e31e"/>
<rect x="437.10" y="775.90" width="22.20" height="22.40" fill="#f9d528"/>
<rect x="458.70" y="775.90" width="22.20" height="22.40" fill="#ffc436"/>
<rect x="480.30" y="775.90" width="22.20" height="22.40" fill="#fabc42"/>
<rect x="501.90" y="775.90" width="22.20" height="22.40" fill="#f1b949"/>
<rect x="523.50" y="775.90" width="22.20" height="22.40" fill="#d8ba56"/>
<rect x="545.10" y="775.90" width="22.20" height="22.40" fill="#c8bc5d"/>
<rect x="566.70" y="775.90" width="22.20" height="22.40" fill="#c3bc5f"/>
<rect x="588.30" y="775.90" width="22.20" height="22.40" fill="#a1be6c"/>
<rect x="393.90" y="797.70" width="22.20" height="22.40" fill="#f9fb0e"/>
<rect x="415.50" y="797.70" width="22.20" height="22.40" fill="#f5e31e"/>
<rect x="437.10" y="797.70" width="22.20" height="22.40" fill="#f9d528"/>
<rect x="458.70" y="797.70" width="22.20" height="22.40" fill="#ffc436"/>
<rect x="480.30" y="797.70" width="22.20" height="22.40" fill="#fabc42"/>
<rect x="501.90" y="797.70" width="22.20" height="22.40" fill="#f1b949"/>
<rect x="523.50" y="797.70" width="22.20" height="22.40" fill="#d8ba56"/>
<rect x="545.10" y="797.70" width="22.20" height="22.40" fill="#c8bc5d"/>
<rect x="566.70" y="797.70" width="22.20" height="22.40" fill="#c3bc5f"/>
<rect x="588.30" y="797.70" width="22.20" height="22.40" fill="#a1be6c"/>
<rect x="393.90" y="819.50" width="22.20" height="22.40" fill="#f9fb0e"/>
<rect x="415.50" y="819.50" width="22.20" height="22.40" fill="#f5e31e"/>
<rect x="437.10" y="819.50" width="22.20" height="22.40" fill="#f9d528"/>
<rect x="458.70" y="819.50" width="22.20" height="22.40" fill="#ffc436"/>
<rect x="480.30" y="819.50" width="22.20" height="22.40" fill="#fabc42"/>
<rect x="501.90" y="819.50" width="22.20" height="22.40" fill="#ecb94c"/>
<rect x="523.50" y="819.50" width="22.20" height="22.40" fill="#d3bb58"/>
<rect x="545.10" y="819.50" width="22.20" height="22.40" fill="#bebc61"/>
<rect x="566.70" y="819.50" width="22.20" height="22.40" fill="#c3bc5f"/>
<rect x="588.30" y="819.50" width="22.20" height="22.40" fill="#a1be6c"/>
<rect x="393.90" y="841.30" width="22.20" height="22.40" fill="#f9fb0e"/>
<rect x="415.50" y="841.30" width="22.20" height="22.40" fill="#f5e31e"/>
<rect x="437.10" y="841.30" width="22.20" height="22.40" fill="#f9d528"/>
<rect x="458.70" y="841.30" width="22.20" height="22.40" fill="#ffc436"/>
<rect x="480.30" y="841.30" width="22.20" height="22.40" fill="#f1b949"/>
<rect x="501.90" y="841.30" width="22.20" height="22.40" fill="#f1b949"/>
<rect x="523.50" y="841.30" width="22.20" height="22.40" fill="#cebb5b"/>
<rect x="545.10" y="841.30" width="22.20" height="22.40" fill="#bebc61"/>
<rect x="566.70" y="841.30" width="22.20" height="22.40" fill="#bebc61"/>
<rect x="588.30" y="841.30" width="22.20" height="22.40" fill="#a1be6c"/>
<rect x="393.90" y="863.10" width="22.20" height="22.40" fill="#f9fb0e"/>
<rect x="415.50" y="863.10" width="22.20" height="22.40" fill="#f5e31e"/>
<rect x="437.10" y="863.10" width="22.20" height="22.40" fill="#f9d528"/>
<rect x="458.70" y="863.10" width="22.20" height="22.40" fill="#ffc436"/>
<rect x="480.30" y="863.10" width="22.20" height="22.40" fill="#f1b949"/>
<rect x="501.90" y="863.10" width="22.20" height="22.40" fill="#e2b951"/>
<rect x="523.50" y="863.10" width="22.20" height="22.40" fill="#cebb5b"/>
<rect x="545.10" y="863.10" width="22.20" height="22.40" fill="#bebc61"/>
<rect x="566.70" y="863.10" width="22.20" height="22.40" fill="#bebc61"/>
<rect x="588.30" y="863.10" width="22.20" height="22.40" fill="#8ebf74"/>
<rect x="393.90" y="884.90" width="22.20" height="22.40" fill="#f9fb0e"/>
<rect x="415.50" y="884.90" width="22.20" height="22.40" fill="#f5ec18"/>
<rect x="437.10" y="884.90" width="22.20" height="22.40" fill="#f9d528"/>
<rect x="458.70" y="884.90" width="22.20" height="22.40" fill="#ffc436"/>
<rect x="480.30" y="884.90" width="22.20" height="22.40" fill="#f1b949"/>
<rect x="501.90" y="884.90" width="22.20" height="22.40" fill="#e2b951"/>
<rect x="523.50" y="884.90" width="22.20" height="22.40" fill="#cebb5b"/>
<rect x="545.10" y="884.90" width="22.20" height="22.40" fill="#bebc61"/>
<rect x="566.70" y="884.90" width="22.20" height="22.40" fill="#bebc61"/>
<rect x="588.30" y="884.90" width="22.20" height="22.40" fill="#8ebf74"/>
<rect x="393.90" y="906.70" width="22.20" height="22.40" fill="#f9fb0e"/>
<rect x="415.50" y="906.70" width="22.20" height="22.40" fill="#f5ec18"/>
<rect x="437.10" y="906.70" width="22.20" height="22.40" fill="#f9d528"/>
<rect x="458.70" y="906.70" width="22.20" height="22.40" fill="#ffc436"/>
<rect x="480.30" y="906.70" width="22.20" height="22.40" fill="#f1b949"/>
<rect x="501.90" y="906.70" width="22.20" height="22.40" fill="#f1b949"/>
<rect x="523.50" y="906.70" width="22.20" height="22.40" fill="#cebb5b"/>
<rect x="545.10" y="906.70" width="22.20" height="22.40" fill="#bebc61"/>
<rect x="566.70" y="906.70" width="22.20" height="22.40" fill="#bebc61"/>
<rect x="588.30" y="906.70" width="22.20" height="22.40" fill="#a1be6c"/>
<rect x="393.90" y="928.50" width="22.20" height="22.40" fill="#f9fb0e"/>
<rect x="415.50" y="928.50" width="22.20" height="22.40" fill="#f5ec18"/>
<rect x="437.10" y="928.50" width="22.20" height="22.40" fill="#f9d528"/>
<rect x="458.70" y="928.50" width="22.20" height="22.40" fill="#ffc436"/>
<rect x="480.30" y="928.50" width="22.20" height="22.40" fill="#f1b949"/>
<rect x="501.90" y="928.50" width="22.20" height="22.40" fill="#f1b949"/>
<rect x="523.50" y="928.50" width="22.20" height="22.40" fill="#cebb5b"/>
<rect x="545.10" y="928.50" width="22.20" height="22.40" fill="#bebc61"/>
<rect x="566.70" y="928.50" width="22.20" height="22.40" fill="#bebc61"/>
<rect x="588.30" y="928.50" width="22.20" height="22.40" fill="#a1be6c"/>
</g>
<rect x="393.90" y="732.30" width="216.00" height="218.00" fill="none" stroke="rgba(38,38,38,0.55)" stroke-width="0.8"/>
<path d="M426.30 950.30v-2.5M426.30 732.30v2.5M469.50 950.30v-2.5M469.50 732.30v2.5M512.70 950.30v-2.5M512.70 732.30v2.5M555.90 950.30v-2.5M555.90 732.30v2.5M599.10 950.30v-2.5M599.10 732.30v2.5M393.90 765.00h2.5M609.90 765.00h-2.5M393.90 808.60h2.5M609.90 808.60h-2.5M393.90 852.20h2.5M609.90 852.20h-2.5M393.90 895.80h2.5M609.90 895.80h-2.5M393.90 939.40h2.5M609.90 939.40h-2.5" stroke="rgba(38,38,38,0.6)" stroke-width="0.8" fill="none"/>
<defs><linearGradient id="cb" x1="0" y1="1" x2="0" y2="0">
<stop offset="0.00" stop-color="#f9fb0e"/>
<stop offset="0.05" stop-color="#f5e31e"/>
<stop offset="0.10" stop-color="#fad12b"/>
<stop offset="0.15" stop-color="#fec13a"/>
<stop offset="0.20" stop-color="#ecb94c"/>
<stop offset="0.25" stop-color="#d3bb58"/>
<stop offset="0.30" stop-color="#b8bd63"/>
<stop offset="0.35" stop-color="#9bbf6f"/>
<stop offset="0.40" stop-color="#7abf7c"/>
<stop offset="0.45" stop-color="#55bd8e"/>
<stop offset="0.50" stop-color="#33b8a1"/>
<stop offset="0.55" stop-color="#18b1b2"/>
<stop offset="0.60" stop-color="#07aac1"/>
<stop offset="0.65" stop-color="#06a0cd"/>
<stop offset="0.70" stop-color="#0d93d2"/>
<stop offset="0.75" stop-color="#1484d4"/>
<stop offset="0.80" stop-color="#0f77db"/>
<stop offset="0.85" stop-color="#036ae1"/>
<stop offset="0.90" stop-color="#1b55d7"/>
<stop offset="0.95" stop-color="#353eaf"/>
<stop offset="1.00" stop-color="#352a87"/>
</linearGradient></defs>
<rect x="623.3" y="366" width="11.4" height="320.9" fill="url(#cb)" stroke="rgba(38,38,38,0.55)" stroke-width="0.8"/>
<path d="M634.7 686.90h-2.5M634.7 622.72h-2.5M634.7 558.54h-2.5M634.7 494.36h-2.5M634.7 430.18h-2.5M634.7 366.00h-2.5" stroke="rgba(38,38,38,0.7)" stroke-width="0.8" fill="none"/>
<text id="t0" transform="translate(200.93,23.32) rotate(0)" x="0" y="0" text-anchor="middle" font-family='"Liberation Serif", serif' font-size="34.39" textLength="96.35" lengthAdjust="spacingAndGlyphs" fill="#000000" stroke="#000000" stroke-width="0.45">Source</text>
<text id="t1" transform="translate(477.30,23.50) rotate(0)" x="0" y="0" text-anchor="middle" font-family='"Liberation Serif", serif' font-size="31.52" textLength="105.97" lengthAdjust="spacingAndGlyphs" fill="#000000" stroke="#000000" stroke-width="0.45">Artifact</text>
<text id="t2" transform="translate(41.40,172.65) rotate(-90)" x="0" y="0" text-anchor="middle" font-family='"Liberation Serif", serif' font-size="34.51" textLength="187.18" lengthAdjust="spacingAndGlyphs" fill="#000000" stroke="#000000" stroke-width="0.45">Classification</text>
<text id="t3" transform="translate(40.65,503.43) rotate(-90)" x="0" y="0" text-anchor="middle" font-family='"Liberation Serif", serif' font-size="32.68" textLength="233.71" lengthAdjust="spacingAndGlyphs" fill="#000000" stroke="#000000" stroke-width="0.45">Misclassification</text>
<text id="t4" transform="translate(22.52,839.98) rotate(-90)" x="0" y="0" text-anchor="middle" font-family='"Liberation Serif", serif' font-size="30.20" textLength="97.52" lengthAdjust="spacingAndGlyphs" fill="#000000" stroke="#000000" stroke-width="0.45">Missed</text>
<text id="t5" transform="translate(57.67,839.57) rotate(-90)" x="0" y="0" text-anchor="middle" font-family='"Liberation Serif", serif' font-size="32.81" textLength="133.26" lengthAdjust="spacingAndGlyphs" fill="#000000" stroke="#000000" stroke-width="0.45">Detection</text>
<text id="t6" transform="translate(91.60,171.10) rotate(-90)" x="0" y="0" text-anchor="middle" font-family='"Liberation Sans", sans-serif' font-size="22.44" textLength="186.58" lengthAdjust="spacingAndGlyphs" fill="#262626" stroke="#262626" stroke-width="0"># Sources Trained</text>
<text id="t7" transform="translate(227.83,326.15) rotate(0)" x="0" y="0" text-anchor="middle" font-family='"Liberation Sans", sans-serif' font-size="21.18" textLength="178.63" lengthAdjust="spacingAndGlyphs" fill="#262626" stroke="#262626" stroke-width="0"># Sources Tested</text>
<text id="t8" transform="translate(195.70,350.28) rotate(0)" x="0" y="0" text-anchor="middle" font-family='"Liberation Serif", serif' font-size="26.12" textLength="30.29" lengthAdjust="spacingAndGlyphs" fill="#000000" stroke="#000000" stroke-width="0.45">(a)</text>
<text id="t9" transform="translate(367.17,177.55) rotate(-90)" x="0" y="0" text-anchor="middle" font-family='"Liberation Sans", sans-serif' font-size="22.73" textLength="181.90" lengthAdjust="spacingAndGlyphs" fill="#262626" stroke="#262626" stroke-width="0"># Sources Trained</text>
<text id="t10" transform="translate(504.82,327.97) rotate(0)" x="0" y="0" text-anchor="middle" font-family='"Liberation Sans", sans-serif' font-size="21.08" textLength="173.39" lengthAdjust="spacingAndGlyphs" fill="#262626" stroke="#262626" stroke-width="0"># Sources Tested</text>
<text id="t11" transform="translate(471.17,350.23) rotate(0)" x="0" y="0" text-anchor="middle" font-family='"Liberation Serif", serif' font-size="25.99" textLength="31.48" lengthAdjust="spacingAndGlyphs" fill="#000000" stroke="#000000" stroke-width="0.45">(b)</text>
<text id="t12" transform="translate(89.53,504.40) rotate(-90)" x="0" y="0" text-anchor="middle" font-family='"Liberation Sans", sans-serif' font-size="23.31" textLength="196.01" lengthAdjust="spacingAndGlyphs" fill="#262626" stroke="#262626" stroke-width="0"># Sources Trained</text>
<text id="t13" transform="translate(228.75,657.05) rotate(0)" x="0" y="0" text-anchor="middle" font-family='"Liberation Sans", sans-serif' font-size="23.15" textLength="188.08" lengthAdjust="spacingAndGlyphs" fill="#262626" stroke="#262626" stroke-width="0"># Sources Tested</text>
<text id="t14" transform="translate(195.70,679.52) rotate(0)" x="0" y="0" text-anchor="middle" font-family='"Liberation Serif", serif' font-size="25.75" textLength="30.17" lengthAdjust="spacingAndGlyphs" fill="#000000" stroke="#000000" stroke-width="0.45">(c)</text>
<text id="t15" transform="translate(367.30,506.72) rotate(-90)" x="0" y="0" text-anchor="middle" font-family='"Liberation Sans", sans-serif' font-size="22.24" textLength="180.93" lengthAdjust="spacingAndGlyphs" fill="#262626" stroke="#262626" stroke-width="0"># Sources Trained</text>
<text id="t16" transform="translate(504.82,657.33) rotate(0)" x="0" y="0" text-anchor="middle" font-family='"Liberation Sans", sans-serif' font-size="21.40" textLength="173.39" lengthAdjust="spacingAndGlyphs" fill="#262626" stroke="#262626" stroke-width="0"># Sources Tested</text>
<text id="t17" transform="translate(471.17,679.55) rotate(0)" x="0" y="0" text-anchor="middle" font-family='"Liberation Serif", serif' font-size="25.50" textLength="31.48" lengthAdjust="spacingAndGlyphs" fill="#000000" stroke="#000000" stroke-width="0.45">(d)</text>
<text id="t18" transform="translate(86.40,838.17) rotate(-90)" x="0" y="0" text-anchor="middle" font-family='"Liberation Sans", sans-serif' font-size="21.67" textLength="184.04" lengthAdjust="spacingAndGlyphs" fill="#262626" stroke="#262626" stroke-width="0"># Sources Trained</text>
<text id="t19" transform="translate(227.78,992.03) rotate(0)" x="0" y="0" text-anchor="middle" font-family='"Liberation Sans", sans-serif' font-size="22.47" textLength="177.00" lengthAdjust="spacingAndGlyphs" fill="#262626" stroke="#262626" stroke-width="0"># Sources Tested</text>
<text id="t20" transform="translate(195.58,1017.70) rotate(0)" x="0" y="0" text-anchor="middle" font-family='"Liberation Serif", serif' font-size="30.91" textLength="30.42" lengthAdjust="spacingAndGlyphs" fill="#000000" stroke="#000000" stroke-width="0.45">(e)</text>
<text id="t21" transform="translate(364.70,840.55) rotate(-90)" x="0" y="0" text-anchor="middle" font-family='"Liberation Sans", sans-serif' font-size="22.24" textLength="171.18" lengthAdjust="spacingAndGlyphs" fill="#262626" stroke="#262626" stroke-width="0"># Sources Trained</text>
<text id="t22" transform="translate(503.80,992.72) rotate(0)" x="0" y="0" text-anchor="middle" font-family='"Liberation Sans", sans-serif' font-size="20.11" textLength="164.17" lengthAdjust="spacingAndGlyphs" fill="#262626" stroke="#262626" stroke-width="0"># Sources Tested</text>
<text id="t23" transform="translate(471.60,1017.33) rotate(0)" x="0" y="0" text-anchor="middle" font-family='"Liberation Serif", serif' font-size="29.69" textLength="26.50" lengthAdjust="spacingAndGlyphs" fill="#000000" stroke="#000000" stroke-width="0.45">(f)</text>
<text id="t24" transform="translate(115.22,104.68) rotate(0)" x="0" y="0" text-anchor="middle" font-family='"Liberation Sans", sans-serif' font-size="20.05" textLength="11.12" lengthAdjust="spacingAndGlyphs" fill="#262626" stroke="#262626" stroke-width="0">2</text>
<text id="t25" transform="translate(115.22,147.17) rotate(0)" x="0" y="0" text-anchor="middle" font-family='"Liberation Sans", sans-serif' font-size="20.06" textLength="10.12" lengthAdjust="spacingAndGlyphs" fill="#262626" stroke="#262626" stroke-width="0">4</text>
<text id="t26" transform="translate(115.10,189.66) rotate(0)" x="0" y="0" text-anchor="middle" font-family='"Liberation Sans", sans-serif' font-size="20.06" textLength="10.87" lengthAdjust="spacingAndGlyphs" fill="#262626" stroke="#262626" stroke-width="0">6</text>
<text id="t27" transform="translate(115.10,231.90) rotate(0)" x="0" y="0" text-anchor="middle" font-family='"Liberation Sans", sans-serif' font-size="20.05" textLength="10.87" lengthAdjust="spacingAndGlyphs" fill="#262626" stroke="#262626" stroke-width="0">8</text>
<text id="t28" transform="translate(109.20,274.39) rotate(0)" x="0" y="0" text-anchor="middle" font-family='"Liberation Sans", sans-serif' font-size="20.04" textLength="22.50" lengthAdjust="spacingAndGlyphs" fill="#262626" stroke="#262626" stroke-width="0">10</text>
<text id="t29" transform="translate(156.16,300.67) rotate(0)" x="0" y="0" text-anchor="middle" font-family='"Liberation Sans", sans-serif' font-size="19.25" textLength="11.12" lengthAdjust="spacingAndGlyphs" fill="#262626" stroke="#262626" stroke-width="0">2</text>
<text id="t30" transform="translate(237.03,300.67) rotate(0)" x="0" y="0" text-anchor="middle" font-family='"Liberation Sans", sans-serif' font-size="19.25" textLength="10.87" lengthAdjust="spacingAndGlyphs" fill="#262626" stroke="#262626" stroke-width="0">6</text>
<text id="t31" transform="translate(318.14,300.67) rotate(0)" x="0" y="0" text-anchor="middle" font-family='"Liberation Sans", sans-serif' font-size="19.26" textLength="22.75" lengthAdjust="spacingAndGlyphs" fill="#262626" stroke="#262626" stroke-width="0">10</text>
<text id="t32" transform="translate(388.88,111.12) rotate(0)" x="0" y="0" text-anchor="middle" font-family='"Liberation Sans", sans-serif' font-size="19.87" textLength="11.12" lengthAdjust="spacingAndGlyphs" fill="#262626" stroke="#262626" stroke-width="0">2</text>
<text id="t33" transform="translate(388.88,153.40) rotate(0)" x="0" y="0" text-anchor="middle" font-family='"Liberation Sans", sans-serif' font-size="20.19" textLength="10.12" lengthAdjust="spacingAndGlyphs" fill="#262626" stroke="#262626" stroke-width="0">4</text>
<text id="t34" transform="translate(388.75,195.42) rotate(0)" x="0" y="0" text-anchor="middle" font-family='"Liberation Sans", sans-serif' font-size="19.88" textLength="10.87" lengthAdjust="spacingAndGlyphs" fill="#262626" stroke="#262626" stroke-width="0">6</text>
<text id="t35" transform="translate(388.75,237.57) rotate(0)" x="0" y="0" text-anchor="middle" font-family='"Liberation Sans", sans-serif' font-size="19.88" textLength="10.87" lengthAdjust="spacingAndGlyphs" fill="#262626" stroke="#262626" stroke-width="0">8</text>
<text id="t36" transform="translate(382.72,279.73) rotate(0)" x="0" y="0" text-anchor="middle" font-family='"Liberation Sans", sans-serif' font-size="19.88" textLength="22.75" lengthAdjust="spacingAndGlyphs" fill="#262626" stroke="#262626" stroke-width="0">10</text>
<text id="t37" transform="translate(430.33,304.72) rotate(0)" x="0" y="0" text-anchor="middle" font-family='"Liberation Sans", sans-serif' font-size="19.35" textLength="11.12" lengthAdjust="spacingAndGlyphs" fill="#262626" stroke="#262626" stroke-width="0">2</text>
<text id="t38" transform="translate(472.52,304.72) rotate(0)" x="0" y="0" text-anchor="middle" font-family='"Liberation Sans", sans-serif' font-size="19.36" textLength="10.12" lengthAdjust="spacingAndGlyphs" fill="#262626" stroke="#262626" stroke-width="0">4</text>
<text id="t39" transform="translate(514.71,304.72) rotate(0)" x="0" y="0" text-anchor="middle" font-family='"Liberation Sans", sans-serif' font-size="19.36" textLength="11.12" lengthAdjust="spacingAndGlyphs" fill="#262626" stroke="#262626" stroke-width="0">6</text>
<text id="t40" transform="translate(557.02,304.72) rotate(0)" x="0" y="0" text-anchor="middle" font-family='"Liberation Sans", sans-serif' font-size="19.36" textLength="10.87" lengthAdjust="spacingAndGlyphs" fill="#262626" stroke="#262626" stroke-width="0">8</text>
<text id="t41" transform="translate(599.34,304.72) rotate(0)" x="0" y="0" text-anchor="middle" font-family='"Liberation Sans", sans-serif' font-size="19.36" textLength="22.75" lengthAdjust="spacingAndGlyphs" fill="#262626" stroke="#262626" stroke-width="0">10</text>
<text id="t42" transform="translate(113.57,439.88) rotate(0)" x="0" y="0" text-anchor="middle" font-family='"Liberation Sans", sans-serif' font-size="20.09" textLength="11.12" lengthAdjust="spacingAndGlyphs" fill="#262626" stroke="#262626" stroke-width="0">2</text>
<text id="t43" transform="translate(113.57,481.20) rotate(0)" x="0" y="0" text-anchor="middle" font-family='"Liberation Sans", sans-serif' font-size="20.42" textLength="10.12" lengthAdjust="spacingAndGlyphs" fill="#262626" stroke="#262626" stroke-width="0">4</text>
<text id="t44" transform="translate(113.45,522.52) rotate(0)" x="0" y="0" text-anchor="middle" font-family='"Liberation Sans", sans-serif' font-size="20.09" textLength="10.87" lengthAdjust="spacingAndGlyphs" fill="#262626" stroke="#262626" stroke-width="0">6</text>
<text id="t45" transform="translate(113.45,563.72) rotate(0)" x="0" y="0" text-anchor="middle" font-family='"Liberation Sans", sans-serif' font-size="20.09" textLength="10.87" lengthAdjust="spacingAndGlyphs" fill="#262626" stroke="#262626" stroke-width="0">8</text>
<text id="t46" transform="translate(107.00,605.17) rotate(0)" x="0" y="0" text-anchor="middle" font-family='"Liberation Sans", sans-serif' font-size="20.09" textLength="23.63" lengthAdjust="spacingAndGlyphs" fill="#262626" stroke="#262626" stroke-width="0">10</text>
<text id="t47" transform="translate(155.12,631.30) rotate(0)" x="0" y="0" text-anchor="middle" font-family='"Liberation Sans", sans-serif' font-size="20.52" textLength="11.12" lengthAdjust="spacingAndGlyphs" fill="#262626" stroke="#262626" stroke-width="0">2</text>
<text id="t48" transform="translate(237.79,631.30) rotate(0)" x="0" y="0" text-anchor="middle" font-family='"Liberation Sans", sans-serif' font-size="20.53" textLength="11.12" lengthAdjust="spacingAndGlyphs" fill="#262626" stroke="#262626" stroke-width="0">6</text>
<text id="t49" transform="translate(320.59,631.30) rotate(0)" x="0" y="0" text-anchor="middle" font-family='"Liberation Sans", sans-serif' font-size="20.54" textLength="23.63" lengthAdjust="spacingAndGlyphs" fill="#262626" stroke="#262626" stroke-width="0">10</text>
<text id="t50" transform="translate(388.58,440.47) rotate(0)" x="0" y="0" text-anchor="middle" font-family='"Liberation Sans", sans-serif' font-size="19.66" textLength="11.12" lengthAdjust="spacingAndGlyphs" fill="#262626" stroke="#262626" stroke-width="0">2</text>
<text id="t51" transform="translate(388.58,482.61) rotate(0)" x="0" y="0" text-anchor="middle" font-family='"Liberation Sans", sans-serif' font-size="19.99" textLength="10.12" lengthAdjust="spacingAndGlyphs" fill="#262626" stroke="#262626" stroke-width="0">4</text>
<text id="t52" transform="translate(388.45,524.51) rotate(0)" x="0" y="0" text-anchor="middle" font-family='"Liberation Sans", sans-serif' font-size="19.67" textLength="10.87" lengthAdjust="spacingAndGlyphs" fill="#262626" stroke="#262626" stroke-width="0">6</text>
<text id="t53" transform="translate(388.45,566.77) rotate(0)" x="0" y="0" text-anchor="middle" font-family='"Liberation Sans", sans-serif' font-size="19.67" textLength="10.87" lengthAdjust="spacingAndGlyphs" fill="#262626" stroke="#262626" stroke-width="0">8</text>
<text id="t54" transform="translate(382.55,608.80) rotate(0)" x="0" y="0" text-anchor="middle" font-family='"Liberation Sans", sans-serif' font-size="19.66" textLength="22.50" lengthAdjust="spacingAndGlyphs" fill="#262626" stroke="#262626" stroke-width="0">10</text>
<text id="t55" transform="translate(430.18,633.82) rotate(0)" x="0" y="0" text-anchor="middle" font-family='"Liberation Sans", sans-serif' font-size="19.25" textLength="11.12" lengthAdjust="spacingAndGlyphs" fill="#262626" stroke="#262626" stroke-width="0">2</text>
<text id="t56" transform="translate(472.37,633.70) rotate(0)" x="0" y="0" text-anchor="middle" font-family='"Liberation Sans", sans-serif' font-size="19.58" textLength="10.12" lengthAdjust="spacingAndGlyphs" fill="#262626" stroke="#262626" stroke-width="0">4</text>
<text id="t57" transform="translate(514.56,633.82) rotate(0)" x="0" y="0" text-anchor="middle" font-family='"Liberation Sans", sans-serif' font-size="19.25" textLength="11.12" lengthAdjust="spacingAndGlyphs" fill="#262626" stroke="#262626" stroke-width="0">6</text>
<text id="t58" transform="translate(556.88,633.82) rotate(0)" x="0" y="0" text-anchor="middle" font-family='"Liberation Sans", sans-serif' font-size="19.25" textLength="10.87" lengthAdjust="spacingAndGlyphs" fill="#262626" stroke="#262626" stroke-width="0">8</text>
<text id="t59" transform="translate(599.19,633.82) rotate(0)" x="0" y="0" text-anchor="middle" font-family='"Liberation Sans", sans-serif' font-size="19.26" textLength="22.75" lengthAdjust="spacingAndGlyphs" fill="#262626" stroke="#262626" stroke-width="0">10</text>
<text id="t60" transform="translate(109.27,771.16) rotate(0)" x="0" y="0" text-anchor="middle" font-family='"Liberation Sans", sans-serif' font-size="19.66" textLength="11.12" lengthAdjust="spacingAndGlyphs" fill="#262626" stroke="#262626" stroke-width="0">2</text>
<text id="t61" transform="translate(109.52,813.86) rotate(0)" x="0" y="0" text-anchor="middle" font-family='"Liberation Sans", sans-serif' font-size="19.99" textLength="10.12" lengthAdjust="spacingAndGlyphs" fill="#262626" stroke="#262626" stroke-width="0">4</text>
<text id="t62" transform="translate(109.27,856.82) rotate(0)" x="0" y="0" text-anchor="middle" font-family='"Liberation Sans", sans-serif' font-size="19.67" textLength="11.12" lengthAdjust="spacingAndGlyphs" fill="#262626" stroke="#262626" stroke-width="0">6</text>
<text id="t63" transform="translate(109.40,899.65) rotate(0)" x="0" y="0" text-anchor="middle" font-family='"Liberation Sans", sans-serif' font-size="19.67" textLength="10.87" lengthAdjust="spacingAndGlyphs" fill="#262626" stroke="#262626" stroke-width="0">8</text>
<text id="t64" transform="translate(103.12,942.23) rotate(0)" x="0" y="0" text-anchor="middle" font-family='"Liberation Sans", sans-serif' font-size="19.67" textLength="23.27" lengthAdjust="spacingAndGlyphs" fill="#262626" stroke="#262626" stroke-width="0">10</text>
<text id="t65" transform="translate(151.38,968.18) rotate(0)" x="0" y="0" text-anchor="middle" font-family='"Liberation Sans", sans-serif' font-size="19.25" textLength="11.12" lengthAdjust="spacingAndGlyphs" fill="#262626" stroke="#262626" stroke-width="0">2</text>
<text id="t66" transform="translate(194.36,968.05) rotate(0)" x="0" y="0" text-anchor="middle" font-family='"Liberation Sans", sans-serif' font-size="19.58" textLength="10.12" lengthAdjust="spacingAndGlyphs" fill="#262626" stroke="#262626" stroke-width="0">4</text>
<text id="t67" transform="translate(237.09,968.18) rotate(0)" x="0" y="0" text-anchor="middle" font-family='"Liberation Sans", sans-serif' font-size="19.25" textLength="11.12" lengthAdjust="spacingAndGlyphs" fill="#262626" stroke="#262626" stroke-width="0">6</text>
<text id="t68" transform="translate(279.95,968.18) rotate(0)" x="0" y="0" text-anchor="middle" font-family='"Liberation Sans", sans-serif' font-size="19.25" textLength="10.87" lengthAdjust="spacingAndGlyphs" fill="#262626" stroke="#262626" stroke-width="0">8</text>
<text id="t69" transform="translate(323.06,968.18) rotate(0)" x="0" y="0" text-anchor="middle" font-family='"Liberation Sans", sans-serif' font-size="19.26" textLength="23.27" lengthAdjust="spacingAndGlyphs" fill="#262626" stroke="#262626" stroke-width="0">10</text>
<text id="t70" transform="translate(384.28,771.17) rotate(0)" x="0" y="0" text-anchor="middle" font-family='"Liberation Sans", sans-serif' font-size="18.27" textLength="11.12" lengthAdjust="spacingAndGlyphs" fill="#262626" stroke="#262626" stroke-width="0">2</text>
<text id="t71" transform="translate(384.53,814.95) rotate(0)" x="0" y="0" text-anchor="middle" font-family='"Liberation Sans", sans-serif' font-size="18.61" textLength="10.12" lengthAdjust="spacingAndGlyphs" fill="#262626" stroke="#262626" stroke-width="0">4</text>
<text id="t72" transform="translate(384.28,858.47) rotate(0)" x="0" y="0" text-anchor="middle" font-family='"Liberation Sans", sans-serif' font-size="18.27" textLength="11.12" lengthAdjust="spacingAndGlyphs" fill="#262626" stroke="#262626" stroke-width="0">6</text>
<text id="t73" transform="translate(384.40,902.12) rotate(0)" x="0" y="0" text-anchor="middle" font-family='"Liberation Sans", sans-serif' font-size="18.28" textLength="10.87" lengthAdjust="spacingAndGlyphs" fill="#262626" stroke="#262626" stroke-width="0">8</text>
<text id="t74" transform="translate(378.62,945.77) rotate(0)" x="0" y="0" text-anchor="middle" font-family='"Liberation Sans", sans-serif' font-size="18.28" textLength="22.24" lengthAdjust="spacingAndGlyphs" fill="#262626" stroke="#262626" stroke-width="0">10</text>
<text id="t75" transform="translate(426.32,970.05) rotate(0)" x="0" y="0" text-anchor="middle" font-family='"Liberation Sans", sans-serif' font-size="17.65" textLength="11.12" lengthAdjust="spacingAndGlyphs" fill="#262626" stroke="#262626" stroke-width="0">2</text>
<text id="t76" transform="translate(469.62,969.93) rotate(0)" x="0" y="0" text-anchor="middle" font-family='"Liberation Sans", sans-serif' font-size="17.97" textLength="10.12" lengthAdjust="spacingAndGlyphs" fill="#262626" stroke="#262626" stroke-width="0">4</text>
<text id="t77" transform="translate(512.68,970.05) rotate(0)" x="0" y="0" text-anchor="middle" font-family='"Liberation Sans", sans-serif' font-size="17.66" textLength="11.12" lengthAdjust="spacingAndGlyphs" fill="#262626" stroke="#262626" stroke-width="0">6</text>
<text id="t78" transform="translate(555.85,970.05) rotate(0)" x="0" y="0" text-anchor="middle" font-family='"Liberation Sans", sans-serif' font-size="17.66" textLength="10.87" lengthAdjust="spacingAndGlyphs" fill="#262626" stroke="#262626" stroke-width="0">8</text>
<text id="t79" transform="translate(599.28,970.05) rotate(0)" x="0" y="0" text-anchor="middle" font-family='"Liberation Sans", sans-serif' font-size="17.66" textLength="22.24" lengthAdjust="spacingAndGlyphs" fill="#262626" stroke="#262626" stroke-width="0">10</text>
<text id="t80" transform="translate(648.32,694.95) rotate(0)" x="0" y="0" text-anchor="middle" font-family='"Liberation Sans", sans-serif' font-size="24.57" textLength="15.14" lengthAdjust="spacingAndGlyphs" fill="#262626" stroke="#262626" stroke-width="0">0</text>
<text id="t81" transform="translate(656.12,631.04) rotate(0)" x="0" y="0" text-anchor="middle" font-family='"Liberation Sans", sans-serif' font-size="24.57" textLength="31.72" lengthAdjust="spacingAndGlyphs" fill="#262626" stroke="#262626" stroke-width="0">20</text>
<text id="t82" transform="translate(656.50,566.88) rotate(0)" x="0" y="0" text-anchor="middle" font-family='"Liberation Sans", sans-serif' font-size="24.57" textLength="30.97" lengthAdjust="spacingAndGlyphs" fill="#262626" stroke="#262626" stroke-width="0">40</text>
<text id="t83" transform="translate(656.12,502.72) rotate(0)" x="0" y="0" text-anchor="middle" font-family='"Liberation Sans", sans-serif' font-size="24.57" textLength="31.72" lengthAdjust="spacingAndGlyphs" fill="#262626" stroke="#262626" stroke-width="0">60</text>
<text id="t84" transform="translate(656.25,438.56) rotate(0)" x="0" y="0" text-anchor="middle" font-family='"Liberation Sans", sans-serif' font-size="24.57" textLength="31.47" lengthAdjust="spacingAndGlyphs" fill="#262626" stroke="#262626" stroke-width="0">80</text>
<text id="t85" transform="translate(663.27,374.40) rotate(0)" x="0" y="0" text-anchor="middle" font-family='"Liberation Sans", sans-serif' font-size="24.57" textLength="47.47" lengthAdjust="spacingAndGlyphs" fill="#262626" stroke="#262626" stroke-width="0">100</text>
<text id="t86" transform="translate(713.27,526.82) rotate(-90)" x="0" y="0" text-anchor="middle" font-family='"Liberation Sans", sans-serif' font-size="27.01" textLength="94.40" lengthAdjust="spacingAndGlyphs" fill="#262626" stroke="#262626" stroke-width="0">Percent</text>
</svg></body></html>
